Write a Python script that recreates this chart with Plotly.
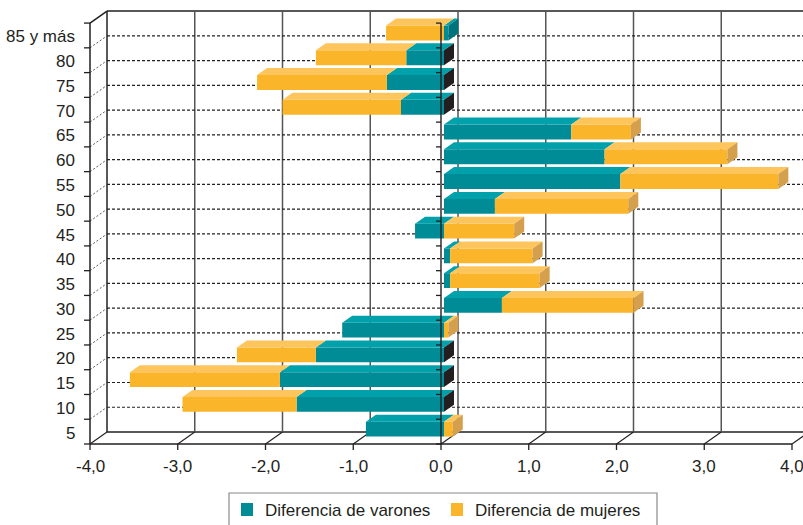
import plotly.graph_objects as go

# Age groups (bottom to top) and population differences per sex
categories = ["5", "10", "15", "20", "25", "30", "35", "40", "45", "50",
              "55", "60", "65", "70", "75", "80", "85 y más"]
varones = [-0.89, -1.68, -1.87, -1.46, -1.16, 0.66, 0.07, 0.07, -0.33, 0.58,
           2.01, 1.83, 1.45, -0.49, -0.65, -0.43, 0.05]
mujeres = [0.10, -1.30, -1.71, -0.90, 0.05, 1.50, 1.02, 0.94, 0.80, 1.52,
           1.80, 1.40, 0.68, -1.35, -1.48, -1.03, -0.66]
x_ticks = [-4, -3, -2, -1, 0, 1, 2, 3, 4]
x_tick_labels = ["-4,0", "-3,0", "-2,0", "-1,0", "0,0", "1,0", "2,0", "3,0", "4,0"]
series_names = ["Diferencia de varones", "Diferencia de mujeres"]

# colours: front face, top face, end face
TEAL, TEAL_TOP, TEAL_SIDE = "#008c96", "#00a1aa", "#00737b"
GOLD, GOLD_TOP, GOLD_SIDE = "#fbb52a", "#fec55d", "#d4a04e"
DARK_SIDE = "#231f20"
INK = "#231f20"
FONT = "Liberation Sans, Arial, sans-serif"

# canvas geometry: the axes span the whole page so the 3-D box can be drawn
W, H = 803, 525
PX_X, PX_Y = 87.75, 24.76          # pixels per unit / per age group
X0_PX, Y0_PX = 444, 444            # bar-plane zero and front floor
x_range = [-X0_PX / PX_X, (W - X0_PX) / PX_X]
y_range = [-(H - Y0_PX) / PX_Y, Y0_PX / PX_Y]


def dx(px):
    return px / PX_X


def dy(px):
    return px / PX_Y


def px_x(p):
    return (p - X0_PX) / PX_X


def px_y(p):
    return (Y0_PX - p) / PX_Y


FRONT = dx(-3)                     # front plane, relative to bar plane
BACK_X, BACK_Y = dx(17), dy(12)    # depth of the box
DEP_X, DEP_Y = dx(10), dy(7)       # depth of the bars
N = len(categories)
LEFT = x_ticks[0] + FRONT
BAR_W = 0.6
bar_y = [i + 0.6 for i in range(N)]

fig = go.Figure()

# front faces (stacked: positives and negatives separately)
fig.add_trace(go.Bar(x=varones, y=bar_y, orientation="h", width=BAR_W,
                     marker=dict(color=TEAL, line=dict(width=0)),
                     name=series_names[0], showlegend=False))
fig.add_trace(go.Bar(x=mujeres, y=bar_y, orientation="h", width=BAR_W,
                     marker=dict(color=GOLD, line=dict(width=0)),
                     name=series_names[1], showlegend=False))

# top and end faces derived from the same stacked values
tops = {TEAL_TOP: ([], []), GOLD_TOP: ([], [])}
sides = {TEAL_SIDE: ([], []), GOLD_SIDE: ([], []), DARK_SIDE: ([], [])}
for i in range(N):
    yb = bar_y[i] - BAR_W / 2
    yt = bar_y[i] + BAR_W / 2
    pos = neg = 0.0
    right_col = DARK_SIDE
    for v, top_col, side_col in ((varones[i], TEAL_TOP, TEAL_SIDE),
                                 (mujeres[i], GOLD_TOP, GOLD_SIDE)):
        if v >= 0:
            a, b = pos, pos + v
            pos = b
            if v > 0:
                right_col = side_col
        else:
            a, b = neg + v, neg
            neg = a
        xs, ys = tops[top_col]
        xs += [a, b, b + DEP_X, a + DEP_X, a, None]
        ys += [yt, yt, yt + DEP_Y, yt + DEP_Y, yt, None]
    r = pos
    xs, ys = sides[right_col]
    xs += [r, r, r + DEP_X, r + DEP_X, r, None]
    ys += [yb, yt, yt + DEP_Y, yb + DEP_Y, yb, None]

for col, (xs, ys) in list(tops.items()) + list(sides.items()):
    if xs:
        fig.add_trace(go.Scatter(x=xs, y=ys, mode="lines", fill="toself",
                                 fillcolor=col, line=dict(width=0, color=col),
                                 hoverinfo="skip", showlegend=False))

shapes = []


def line(x0, y0, x1, y1, color=INK, width=1.5, dash="solid", layer="below"):
    shapes.append(dict(type="line", xref="x", yref="y", x0=x0, y0=y0, x1=x1, y1=y1,
                       line=dict(color=color, width=width, dash=dash), layer=layer))


# back wall
bl = LEFT + BACK_X
line(bl, BACK_Y, bl, N + BACK_Y)
line(bl, N + BACK_Y, x_range[1], N + BACK_Y)
line(bl, BACK_Y, x_range[1], BACK_Y)
for v in x_ticks[1:]:
    xb = v + FRONT + BACK_X
    line(xb, BACK_Y, xb, N + BACK_Y, color="#555555", width=1.5)
for k in range(1, N):
    line(bl, k + BACK_Y, x_range[1], k + BACK_Y, color="#222222", width=1.2, dash="3px,2px")
    line(LEFT, k, bl, k + BACK_Y, color="#444444", width=0.9, dash="2px,2px")

# floor edges and front frame
line(LEFT, 0, x_ticks[-1] + FRONT, 0)
line(LEFT, 0, LEFT, N)
line(LEFT, N, bl, N + BACK_Y)
for v in x_ticks:
    xf = v + FRONT
    line(xf, 0, xf + BACK_X, BACK_Y, width=1.1)
    line(xf, 0, xf, dy(-6), width=1.3)
for k in range(N + 1):
    line(LEFT, k, LEFT - dx(6), k, width=1.3)

# value axis at zero, drawn over the bars
z = FRONT
line(z, 0, z, N, width=1.4, layer="above")
for k in range(N + 1):
    line(z, k, z - dx(5), k, width=1.3, layer="above")

annotations = []
for i, c in enumerate(categories):
    annotations.append(dict(x=px_x(77), y=i + 0.44, xref="x", yref="y", text=c,
                            showarrow=False, xanchor="right", yanchor="middle",
                            font=dict(family=FONT, size=17, color=INK)))
for v, t in zip(x_ticks, x_tick_labels):
    annotations.append(dict(x=v + FRONT, y=px_y(466), xref="x", yref="y", text=t,
                            showarrow=False, xanchor="center", yanchor="middle",
                            font=dict(family=FONT, size=17, color=INK)))

# legend box
shapes.append(dict(type="rect", xref="x", yref="y", x0=px_x(229), x1=px_x(657),
                   y0=px_y(493), y1=px_y(535), line=dict(color="#8a8a8a", width=1.2),
                   fillcolor="rgba(0,0,0,0)", layer="above"))
for (sx, tx), col, name in zip(((241, 263), (451, 473)), (TEAL, GOLD), series_names):
    shapes.append(dict(type="rect", xref="x", yref="y", x0=px_x(sx), x1=px_x(sx + 12),
                       y0=px_y(516), y1=px_y(503), line=dict(width=0), fillcolor=col,
                       layer="above"))
    annotations.append(dict(x=px_x(tx), y=px_y(510), xref="x", yref="y", text=name,
                            showarrow=False, xanchor="left", yanchor="middle",
                            font=dict(family=FONT, size=17, color=INK)))

fig.update_layout(
    width=W, height=H, margin=dict(l=0, r=0, t=0, b=0),
    paper_bgcolor="white", plot_bgcolor="white",
    barmode="relative", showlegend=False,
    xaxis=dict(range=x_range, visible=False, fixedrange=True),
    yaxis=dict(range=y_range, visible=False, fixedrange=True),
    shapes=shapes, annotations=annotations,
)

fig.write_html("out.html")
